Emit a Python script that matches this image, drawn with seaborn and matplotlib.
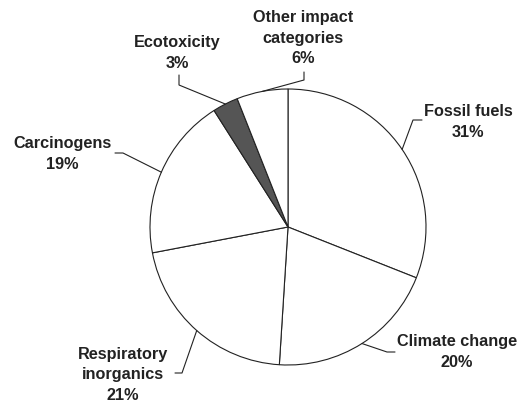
import numpy as np
import seaborn as sns
import matplotlib.pyplot as plt

# data
categories = ["Fossil fuels", "Climate change", "Respiratory\ninorganics",
              "Carcinogens", "Ecotoxicity", "Other impact\ncategories"]
shares = [31, 20, 21, 19, 3, 6]
colors = ["white", "white", "white", "white", "#555555", "white"]

sns.set_theme(style="white")
plt.rcParams['font.family'] = ['Liberation Sans', 'DejaVu Sans']

W, H = 529, 405
CX, CY, R = 288, 227, 138


def px(x, y):
    # pixel position -> data units (pie radius = 1)
    return (x - CX) / R, (CY - y) / R


fig = plt.figure(figsize=(W / 100, H / 100), dpi=100)
ax = fig.add_axes([0, 0, 1, 1])
ax.pie(shares, colors=colors, startangle=90, counterclock=False, radius=1,
       wedgeprops=dict(edgecolor="#222222", linewidth=0.8))
ax.set_xlim(-CX / R, (W - CX) / R)
ax.set_ylim((CY - H) / R, CY / R)
ax.set_aspect("equal")
ax.axis("off")

# leader line elbows / ends and label centres (pixel layout)
elbows = [(413, 120), (387, 352), (182, 373), (123, 153), (179, 85), (304, 80)]
ends = [(422, 120), (395, 352), (175, 373), (115, 153), (179, 75), (304, 72)]
text_pos = [(468, 122), (457, 352), (123, 375), (62, 154), (177, 53), (303, 38)]

angles = 90 - 3.6 * (np.cumsum(shares) - np.array(shares) / 2)
for i, cat in enumerate(categories):
    a = np.deg2rad(angles[i])
    x0, y0 = np.cos(a), np.sin(a)
    ex, ey = px(*elbows[i])
    nx, ny = px(*ends[i])
    ax.plot([x0, ex, nx], [y0, ey, ny], color="#222222", lw=0.8)
    tx, ty = px(*text_pos[i])
    ax.text(tx, ty, f"{cat}\n{shares[i]}%", ha="center", va="center",
            fontsize=11.7, fontweight="bold", color="#222222", linespacing=1.42)

fig.savefig("out.png", dpi=100)
